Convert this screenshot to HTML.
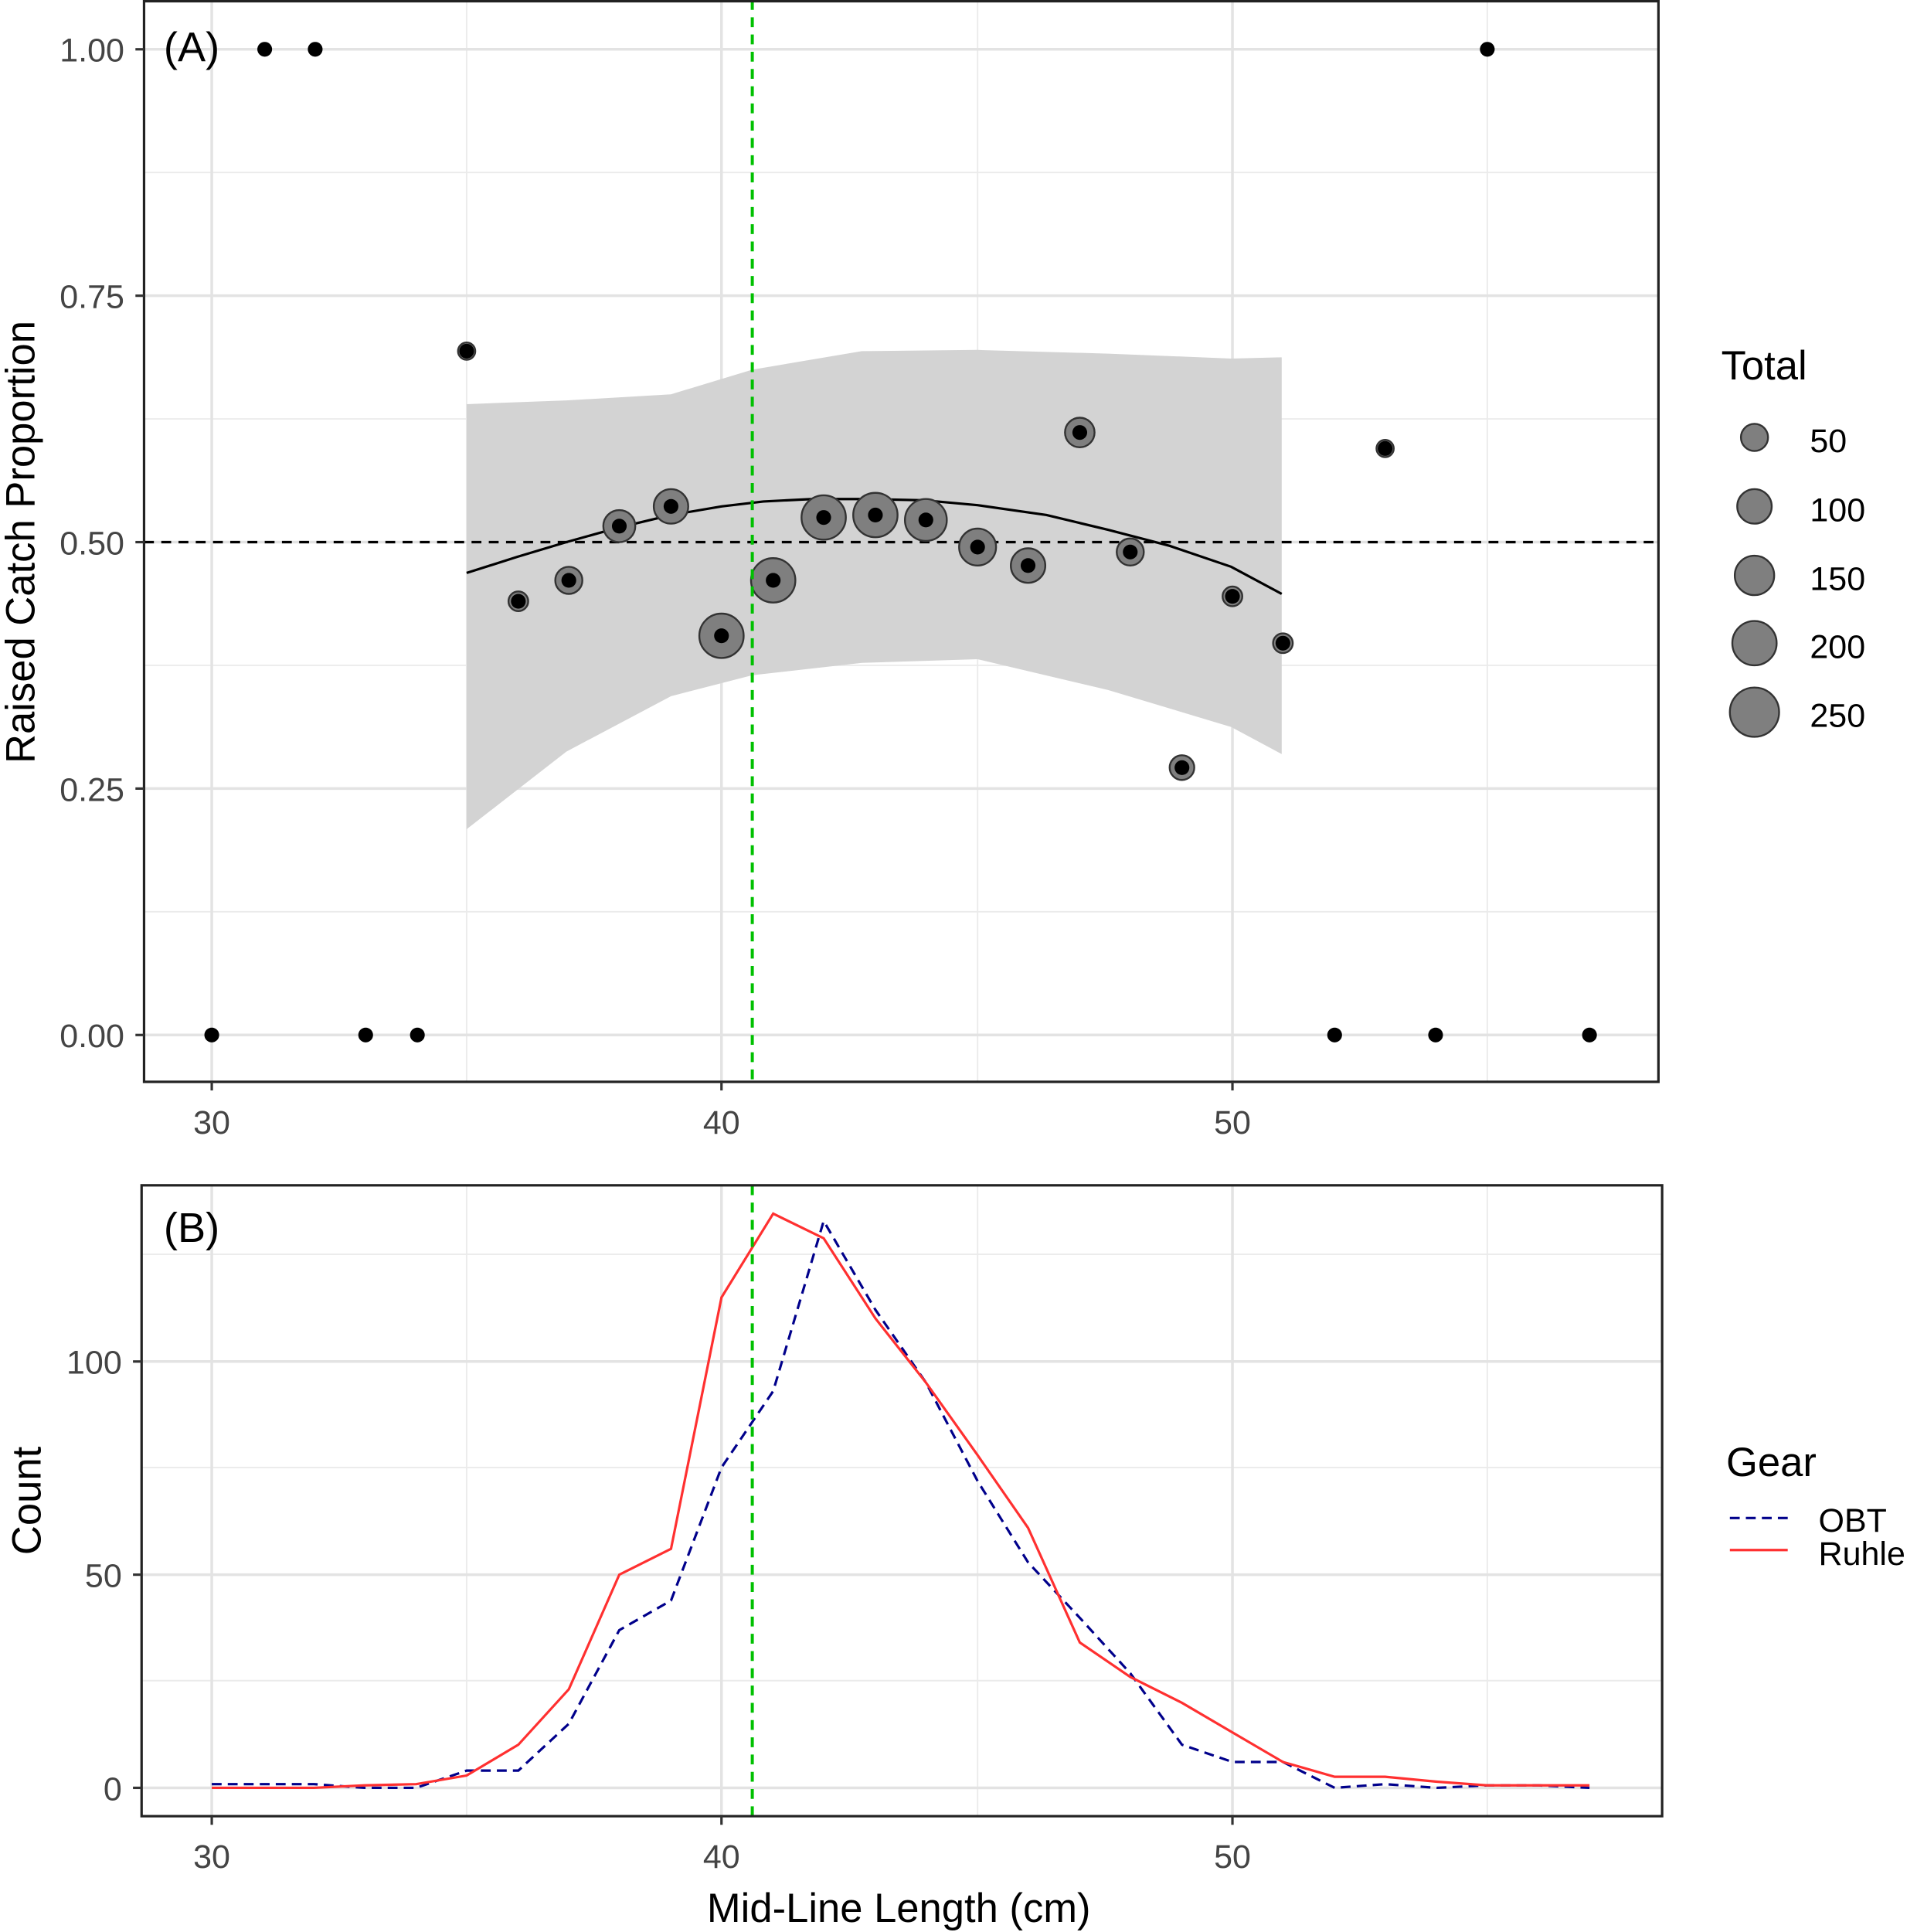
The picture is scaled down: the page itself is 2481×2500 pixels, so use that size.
<!DOCTYPE html>
<html><head><meta charset="utf-8"><style>html,body{margin:0;padding:0;background:#fff}svg{display:block}</style></head>
<body>
<svg width="2481" height="2500" viewBox="0 0 1557 1568" preserveAspectRatio="none" xmlns="http://www.w3.org/2000/svg" font-family="Liberation Sans, sans-serif">
<rect width="1557" height="1568" fill="#fff"/>
<!-- Panel A grid -->
<g stroke="#ebebeb" stroke-width="1.2">
<line x1="117" x2="1347" y1="140" y2="140"/><line x1="117" x2="1347" y1="340" y2="340"/><line x1="117" x2="1347" y1="540" y2="540"/><line x1="117" x2="1347" y1="740" y2="740"/>
<line x1="379" x2="379" y1="0" y2="878"/><line x1="794" x2="794" y1="0" y2="878"/><line x1="1208" x2="1208" y1="0" y2="878"/>
</g>
<g stroke="#e3e3e3" stroke-width="2.2">
<line x1="117" x2="1347" y1="40" y2="40"/><line x1="117" x2="1347" y1="240" y2="240"/><line x1="117" x2="1347" y1="440" y2="440"/><line x1="117" x2="1347" y1="640" y2="640"/><line x1="117" x2="1347" y1="840" y2="840"/>
<line x1="172" x2="172" y1="0" y2="878"/><line x1="586" x2="586" y1="0" y2="878"/><line x1="1001" x2="1001" y1="0" y2="878"/>
</g>
<!-- ribbon -->
<polygon fill="#d3d3d3" points="379,328 460,325 545,320 611,300 700,285 794,284 900,287 1000,291 1041,290 1041,612 1000,590 900,560 794,535 700,538 611,548 545,565 460,610 379,673"/>
<polyline fill="none" stroke="#000" stroke-width="2" points="379,465 420,452 460,440 503,428 545,418 586,411 620,407 660,405 700,405 750,406 794,410 850,418 900,430 950,443 1000,460 1041,482"/>
<line x1="117" x2="1347" y1="440" y2="440" stroke="#000" stroke-width="2" stroke-dasharray="8,6"/>
<!-- points -->
<g fill="#7f7f7f" stroke="#333" stroke-width="1.5">
<circle cx="421" cy="488" r="8"/><circle cx="462" cy="471" r="11"/><circle cx="503" cy="427" r="13"/><circle cx="545" cy="411" r="14"/><circle cx="586" cy="516" r="18"/><circle cx="628" cy="471" r="18"/><circle cx="669" cy="420" r="18"/><circle cx="711" cy="418" r="18"/><circle cx="752" cy="422" r="17"/><circle cx="794" cy="444" r="15"/><circle cx="835" cy="459" r="14"/><circle cx="877" cy="351" r="12"/><circle cx="918" cy="448" r="11"/><circle cx="960" cy="623" r="10"/><circle cx="1001" cy="484" r="8"/><circle cx="1042" cy="522" r="8"/><circle cx="379" cy="285" r="7"/><circle cx="1125" cy="364" r="7"/>
</g>
<g fill="#000">
<circle cx="172" cy="840" r="6"/><circle cx="215" cy="40" r="6"/><circle cx="256" cy="40" r="6"/><circle cx="297" cy="840" r="6"/><circle cx="339" cy="840" r="6"/><circle cx="379" cy="285" r="6"/><circle cx="421" cy="488" r="6"/><circle cx="462" cy="471" r="6"/><circle cx="503" cy="427" r="6"/><circle cx="545" cy="411" r="6"/><circle cx="586" cy="516" r="6"/><circle cx="628" cy="471" r="6"/><circle cx="669" cy="420" r="6"/><circle cx="711" cy="418" r="6"/><circle cx="752" cy="422" r="6"/><circle cx="794" cy="444" r="6"/><circle cx="835" cy="459" r="6"/><circle cx="877" cy="351" r="6"/><circle cx="918" cy="448" r="6"/><circle cx="960" cy="623" r="6"/><circle cx="1001" cy="484" r="6"/><circle cx="1042" cy="522" r="6"/><circle cx="1084" cy="840" r="6"/><circle cx="1125" cy="364" r="6"/><circle cx="1166" cy="840" r="6"/><circle cx="1208" cy="40" r="6"/><circle cx="1291" cy="840" r="6"/>
</g>
<line x1="611" x2="611" y1="0" y2="878" stroke="#00c000" stroke-width="2.5" stroke-dasharray="8,6"/>
<rect x="117" y="1" width="1230" height="877" fill="none" stroke="#222" stroke-width="2"/>
<text x="133" y="50" font-size="34" fill="#000">(A)</text>
<g font-size="27" fill="#444" text-anchor="end">
<text x="101" y="50">1.00</text><text x="101" y="250">0.75</text><text x="101" y="450">0.50</text><text x="101" y="650">0.25</text><text x="101" y="850">0.00</text>
</g>
<g stroke="#333" stroke-width="2"><line x1="110" x2="117" y1="40" y2="40"/><line x1="110" x2="117" y1="240" y2="240"/><line x1="110" x2="117" y1="440" y2="440"/><line x1="110" x2="117" y1="640" y2="640"/><line x1="110" x2="117" y1="840" y2="840"/>
<line x1="172" x2="172" y1="878" y2="885"/><line x1="586" x2="586" y1="878" y2="885"/><line x1="1001" x2="1001" y1="878" y2="885"/></g>
<g font-size="27" fill="#444" text-anchor="middle"><text x="172" y="920">30</text><text x="586" y="920">40</text><text x="1001" y="920">50</text></g>
<text transform="translate(28,440) rotate(-90)" font-size="33" text-anchor="middle" fill="#000">Raised Catch Proportion</text>
<!-- legend Total -->
<text x="1398" y="308" font-size="33" fill="#000">Total</text>
<g fill="#7f7f7f" stroke="#333" stroke-width="1.5">
<circle cx="1425" cy="355" r="11"/><circle cx="1425" cy="411" r="14"/><circle cx="1425" cy="467" r="16"/><circle cx="1425" cy="522" r="18"/><circle cx="1425" cy="578" r="20"/></g>
<g font-size="27" fill="#000"><text x="1470" y="367">50</text><text x="1470" y="423">100</text><text x="1470" y="479">150</text><text x="1470" y="534">200</text><text x="1470" y="590">250</text></g>

<!-- Panel B -->
<g stroke="#ebebeb" stroke-width="1.2">
<line x1="115" x2="1350" y1="1018" y2="1018"/><line x1="115" x2="1350" y1="1191" y2="1191"/><line x1="115" x2="1350" y1="1364" y2="1364"/>
<line x1="379" x2="379" y1="962" y2="1474"/><line x1="794" x2="794" y1="962" y2="1474"/><line x1="1208" x2="1208" y1="962" y2="1474"/>
</g>
<g stroke="#e3e3e3" stroke-width="2.2">
<line x1="115" x2="1350" y1="1105" y2="1105"/><line x1="115" x2="1350" y1="1278" y2="1278"/><line x1="115" x2="1350" y1="1451" y2="1451"/>
<line x1="172" x2="172" y1="962" y2="1474"/><line x1="586" x2="586" y1="962" y2="1474"/><line x1="1001" x2="1001" y1="962" y2="1474"/>
</g>
<polyline fill="none" stroke="#00008b" stroke-width="2" stroke-dasharray="8,5" points="172,1448 213,1448 255,1448 296,1451 338,1451 379,1437 421,1437 462,1399 503,1323 545,1299 586,1191 628,1129 669,991 711,1063 752,1122 794,1202 835,1268 877,1313 918,1358 960,1416 1001,1430 1042,1430 1084,1451 1125,1448 1167,1451 1208,1449 1250,1449 1291,1451"/>
<polyline fill="none" stroke="#ff3030" stroke-width="2" points="172,1451 213,1451 255,1451 296,1449 338,1448 379,1441 421,1416 462,1371 503,1278 545,1257 586,1053 628,985 669,1005 711,1070 752,1122 794,1181 835,1240 877,1333 918,1361 960,1382 1001,1406 1042,1430 1084,1442 1125,1442 1167,1446 1208,1449 1250,1449 1291,1449"/>
<line x1="611" x2="611" y1="962" y2="1474" stroke="#00c000" stroke-width="2.5" stroke-dasharray="8,6"/>
<rect x="115" y="962" width="1235" height="512" fill="none" stroke="#222" stroke-width="2"/>
<text x="133" y="1008" font-size="34" fill="#000">(B)</text>
<g font-size="27" fill="#444" text-anchor="end"><text x="99" y="1115">100</text><text x="99" y="1288">50</text><text x="99" y="1461">0</text></g>
<g stroke="#333" stroke-width="2"><line x1="108" x2="115" y1="1105" y2="1105"/><line x1="108" x2="115" y1="1278" y2="1278"/><line x1="108" x2="115" y1="1451" y2="1451"/>
<line x1="172" x2="172" y1="1474" y2="1481"/><line x1="586" x2="586" y1="1474" y2="1481"/><line x1="1001" x2="1001" y1="1474" y2="1481"/></g>
<g font-size="27" fill="#444" text-anchor="middle"><text x="172" y="1516">30</text><text x="586" y="1516">40</text><text x="1001" y="1516">50</text></g>
<text transform="translate(33,1218) rotate(-90)" font-size="33" text-anchor="middle" fill="#000">Count</text>
<text x="730" y="1560" font-size="33" text-anchor="middle" fill="#000">Mid-Line Length (cm)</text>
<text x="1402" y="1198" font-size="33" fill="#000">Gear</text>
<line x1="1405" x2="1452" y1="1232" y2="1232" stroke="#00008b" stroke-width="2" stroke-dasharray="8,5"/>
<line x1="1405" x2="1452" y1="1258" y2="1258" stroke="#ff3030" stroke-width="2"/>
<g font-size="27" fill="#000"><text x="1477" y="1243">OBT</text><text x="1477" y="1270">Ruhle</text></g>
</svg>
</body></html>
